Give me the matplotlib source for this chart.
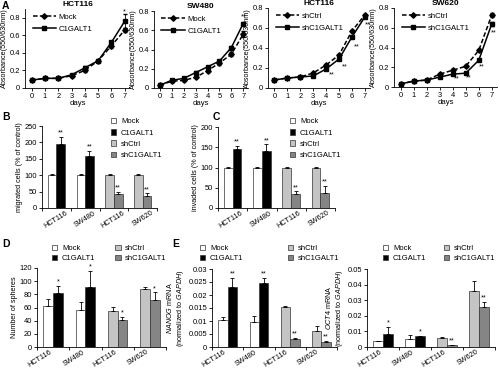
import matplotlib
matplotlib.use("Agg")
import matplotlib.pyplot as plt
from matplotlib.patches import Patch
from matplotlib.lines import Line2D
import numpy as np

plt.rcParams['font.family'] = ['Liberation Sans', 'DejaVu Sans']
plt.rcParams['mathtext.fontset'] = 'custom'
plt.rcParams['mathtext.it'] = 'Liberation Sans:italic'
plt.rcParams['mathtext.rm'] = 'Liberation Sans'

# ---------------- data ----------------
days = [0, 1, 2, 3, 4, 5, 6, 7]

a1_title = "HCT116"
a1_mock = [0.09, 0.11, 0.11, 0.14, 0.20, 0.31, 0.48, 0.66]
a1_mock_err = [0.01, 0.01, 0.01, 0.01, 0.02, 0.01, 0.02, 0.02]
a1_c1 = [0.09, 0.11, 0.11, 0.15, 0.23, 0.31, 0.52, 0.76]
a1_c1_err = [0.01, 0.01, 0.01, 0.01, 0.02, 0.01, 0.02, 0.08]

a2_title = "SW480"
a2_mock = [0.03, 0.07, 0.08, 0.11, 0.18, 0.26, 0.35, 0.56]
a2_mock_err = [0.01, 0.01, 0.01, 0.01, 0.01, 0.02, 0.02, 0.03]
a2_c1 = [0.03, 0.08, 0.10, 0.16, 0.22, 0.28, 0.42, 0.67]
a2_c1_err = [0.01, 0.01, 0.01, 0.02, 0.01, 0.01, 0.02, 0.02]

a3_title = "HCT116"
a3_ctrl = [0.08, 0.10, 0.11, 0.15, 0.23, 0.33, 0.57, 0.73]
a3_ctrl_err = [0.01, 0.01, 0.01, 0.01, 0.01, 0.01, 0.01, 0.01]
a3_sh = [0.08, 0.10, 0.11, 0.12, 0.19, 0.29, 0.51, 0.71]
a3_sh_err = [0.01, 0.01, 0.01, 0.01, 0.01, 0.01, 0.01, 0.01]

a4_title = "SW620"
a4_ctrl = [0.03, 0.06, 0.07, 0.13, 0.17, 0.21, 0.37, 0.73]
a4_ctrl_err = [0.01, 0.01, 0.01, 0.01, 0.01, 0.01, 0.01, 0.02]
a4_sh = [0.03, 0.06, 0.07, 0.10, 0.13, 0.14, 0.27, 0.64]
a4_sh_err = [0.01, 0.01, 0.01, 0.01, 0.01, 0.01, 0.01, 0.02]

cell_lines = ["HCT116", "SW480", "HCT116", "SW620"]
bar_groups = ["Mock", "C1GALT1", "shCtrl", "shC1GALT1"]

b_ctrl = [100, 100, 100, 100]
b_ctrl_err = [3, 3, 3, 3]
b_trt = [195, 158, 42, 38]
b_trt_err = [22, 17, 7, 7]
b_stars = ["**", "**", "**", "**"]

c_ctrl = [100, 100, 100, 100]
c_ctrl_err = [1, 1, 1, 1]
c_trt = [145, 140, 35, 38]
c_trt_err = [8, 17, 6, 17]
c_stars = ["**", "**", "**", "**"]

d_ctrl = [63, 56, 55, 88]
d_ctrl_err = [10, 12, 6, 3]
d_trt = [82, 91, 41, 71]
d_trt_err = [11, 25, 5, 12]
d_stars = ["*", "*", "*", "*"]

e1_ctrl = [0.0105, 0.0098, 0.0155, 0.0060]
e1_ctrl_err = [0.0012, 0.0023, 0.0002, 0.0020]
e1_trt = [0.0232, 0.0245, 0.0030, 0.0018]
e1_trt_err = [0.0033, 0.0020, 0.0005, 0.0004]
e1_stars = ["**", "**", "**", "**"]

e2_ctrl = [0.0038, 0.0052, 0.0060, 0.0360]
e2_ctrl_err = [0.0003, 0.0028, 0.0003, 0.0060]
e2_trt = [0.0085, 0.0070, 0.0013, 0.0258]
e2_trt_err = [0.0045, 0.0003, 0.0003, 0.0030]
e2_stars = ["*", "*", "**", "**"]

COL_MOCK = "white"
COL_C1 = "black"
COL_SHCTRL = "#c4c4c4"
COL_SH = "#858585"

FS = 5.2      # general text size
TFS = 5.4     # tick label size

# ---------------- figure ----------------
W, H = 500, 370
fig = plt.figure(figsize=(W / 100, H / 100), dpi=100)


def add_ax(l, t, r, b):
    return fig.add_axes([l / W, 1 - b / H, (r - l) / W, (b - t) / H])


def style(ax):
    for s in ("top", "right"):
        ax.spines[s].set_visible(False)
    for s in ("left", "bottom"):
        ax.spines[s].set_linewidth(0.6)
    ax.tick_params(direction="out", length=2, width=0.6, labelsize=TFS, pad=1.5)


def line_panel(ax, title, ctrl, ctrl_err, trt, trt_err, labels, ylim, star_x, star_y, star_txt):
    style(ax)
    ax.errorbar(days, ctrl, yerr=ctrl_err, color="k", lw=1.1, ls="--", dashes=(3, 1.5),
                marker="D", ms=2.8, capsize=1.2, elinewidth=0.6)
    ax.errorbar(days, trt, yerr=trt_err, color="k", lw=1.1, ls="-",
                marker="s", ms=2.8, capsize=1.2, elinewidth=0.6)
    ax.set_xlim(-0.5, 7.4)
    ax.set_ylim(*ylim)
    ax.set_xticks(days)
    ax.set_yticks([0, 0.2, 0.4, 0.6, 0.8])
    ax.set_yticklabels(["0", "0.2", "0.4", "0.6", "0.8"])
    ax.set_xlabel("days", fontsize=FS + 0.4, labelpad=0)
    ax.set_ylabel("Absorbance(550/630nm)", fontsize=FS, labelpad=1)
    ax.set_title(title, fontsize=6, fontweight="bold", pad=2)
    for x, y, t in zip(star_x, star_y, star_txt):
        ax.text(x, y, t, fontsize=FS, ha="center", va="center")
    h = [Line2D([], [], color="k", lw=1.1, ls="--", dashes=(3, 1.5), marker="D", ms=2.8),
         Line2D([], [], color="k", lw=1.1, ls="-", marker="s", ms=2.8)]
    ax.legend(h, labels, loc="upper left", bbox_to_anchor=(0.03, 1.0), frameon=False,
              fontsize=FS + 0.4, handlelength=3.0, handletextpad=0.3, labelspacing=0.6,
              borderaxespad=0.2)


axA1 = add_ax(25, 9, 130, 88)
line_panel(axA1, a1_title, a1_mock, a1_mock_err, a1_c1, a1_c1_err, ["Mock", "C1GALT1"],
           (0, 0.9), [7], [0.87], ["*"])
axA2 = add_ax(154, 11, 248, 88)
line_panel(axA2, a2_title, a2_mock, a2_mock_err, a2_c1, a2_c1_err, ["Mock", "C1GALT1"],
           (0, 0.8), [7], [0.74], ["**"])
axA3 = add_ax(268, 8, 370, 88)
line_panel(axA3, a3_title, a3_ctrl, a3_ctrl_err, a3_sh, a3_sh_err, ["shCtrl", "shC1GALT1"],
           (0, 0.8), [4.4, 5.45, 6.4, 7.2], [0.13, 0.21, 0.41, 0.63], ["**"] * 4)
axA4 = add_ax(394, 8, 497, 87)
line_panel(axA4, a4_title, a4_ctrl, a4_ctrl_err, a4_sh, a4_sh_err, ["shCtrl", "shC1GALT1"],
           (0, 0.8), [4.3, 5.2, 6.2, 7.15], [0.08, 0.09, 0.20, 0.55], ["**"] * 4)


def bar_panel(ax, ctrl, ctrl_err, trt, trt_err, stars, ylim, yticks, yticklabels, ylabel,
              star_off, lab_shift):
    style(ax)
    x = np.arange(len(cell_lines))
    w = 0.3
    ctrl_cols = [COL_MOCK, COL_MOCK, COL_SHCTRL, COL_SHCTRL]
    trt_cols = [COL_C1, COL_C1, COL_SH, COL_SH]
    ekw = dict(elinewidth=0.6, capsize=1.5, capthick=0.6, ecolor="k")
    ax.bar(x - w / 2, ctrl, w, color=ctrl_cols, edgecolor="#333333", linewidth=0.5,
           yerr=[np.zeros(4), ctrl_err], error_kw=ekw)
    ax.bar(x + w / 2, trt, w, color=trt_cols, edgecolor="#333333", linewidth=0.5,
           yerr=[np.zeros(4), trt_err], error_kw=ekw)
    for xi, v, e, s in zip(x, trt, trt_err, stars):
        ax.text(xi + w / 2, v + e + star_off, s, fontsize=FS, ha="center", va="bottom")
    ax.set_xlim(-0.5, 3.5)
    ax.set_ylim(*ylim)
    ax.set_yticks(yticks)
    ax.set_yticklabels(yticklabels)
    ax.set_xticks(x + lab_shift)
    ax.set_xticklabels(cell_lines, rotation=32, ha="right", va="top",
                       rotation_mode="anchor", fontsize=5.2)
    ax.tick_params(axis="x", length=0, pad=1.2)
    ax.set_xticks([-0.5, 0.5, 1.5, 2.5, 3.5], minor=True)
    ax.tick_params(axis="x", which="minor", length=2, width=0.6, direction="out")
    ax.set_ylabel(ylabel, fontsize=FS, labelpad=1.5)


def legend_handles():
    cols = [COL_MOCK, COL_C1, COL_SHCTRL, COL_SH]
    return [Patch(facecolor=c, edgecolor="#333333", linewidth=0.5) for c in cols]


def add_legend(px, py, ncol, colspace, labelspace):
    fig.legend(legend_handles(), bar_groups, loc="upper left",
               bbox_to_anchor=(px / W, 1 - py / H), ncol=ncol, frameon=False,
               fontsize=FS + 0.3, handlelength=0.7, handleheight=0.7,
               handletextpad=0.6, labelspacing=labelspace, columnspacing=colspace,
               borderaxespad=0, borderpad=0)


axB = add_ax(42, 126, 157, 208)
bar_panel(axB, b_ctrl, b_ctrl_err, b_trt, b_trt_err, b_stars, (0, 250),
          [0, 50, 100, 150, 200, 250], ["0", "50", "100", "150", "200", "250"],
          "migrated cells (% of control)", 1, 0.3)
add_legend(111, 118, 1, 0, 0.5)

axC = add_ax(218, 127, 335, 208)
bar_panel(axC, c_ctrl, c_ctrl_err, c_trt, c_trt_err, c_stars, (0, 200),
          [0, 50, 100, 150, 200], ["0", "50", "100", "150", "200"],
          "invaded cells (% of control)", 1, 0.25)
add_legend(290, 118, 1, 0, 0.5)

axD = add_ax(37, 268, 166, 347)
bar_panel(axD, d_ctrl, d_ctrl_err, d_trt, d_trt_err, d_stars, (0, 120),
          [0, 20, 40, 60, 80, 100, 120], ["0", "20", "40", "60", "80", "100", "120"],
          "Number of spheres", 0.5, -0.1)
add_legend(52, 245, 2, 2.6, 0.3)

axE1 = add_ax(212, 269, 337, 347)
bar_panel(axE1, e1_ctrl, e1_ctrl_err, e1_trt, e1_trt_err, e1_stars, (0, 0.03),
          [0, 0.005, 0.01, 0.015, 0.02, 0.025, 0.03],
          ["0", "0.005", "0.01", "0.015", "0.02", "0.025", "0.03"],
          "$\\it{NANOG}$ mRNA\n(normalized to $\\it{GAPDH}$)", 0.0002, -0.15)
add_legend(200, 245, 2, 5.8, 0.3)

axE2 = add_ax(367, 269, 495, 347)
bar_panel(axE2, e2_ctrl, e2_ctrl_err, e2_trt, e2_trt_err, e2_stars, (0, 0.05),
          [0, 0.01, 0.02, 0.03, 0.04, 0.05], ["0", "0.01", "0.02", "0.03", "0.04", "0.05"],
          "$\\it{OCT4}$ mRNA\n(normalized to $\\it{GAPDH}$)", 0.0003, -0.1)
add_legend(383, 245, 2, 2.3, 0.3)

for letter, px, py in [("A", 2, 1), ("B", 2, 112), ("C", 213, 112), ("D", 2, 239), ("E", 172, 239)]:
    fig.text(px / W, 1 - py / H, letter, fontsize=7.5, fontweight="bold", ha="left", va="top")

fig.savefig("out.png", dpi=100)
